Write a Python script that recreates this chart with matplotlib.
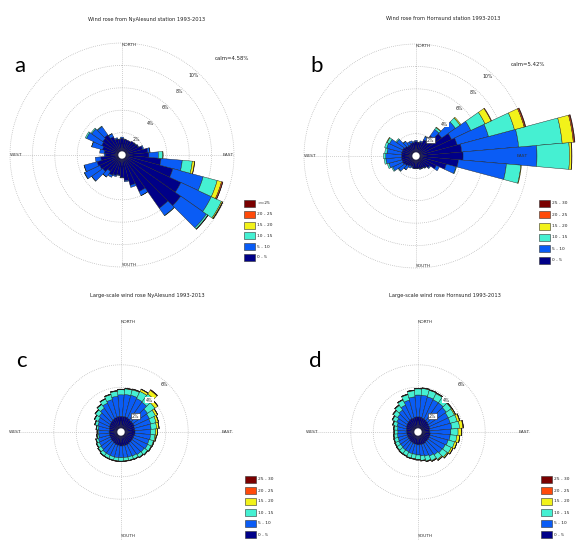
import numpy as np
import matplotlib
matplotlib.use('Agg')
import matplotlib.pyplot as plt
from matplotlib.patches import Rectangle

# ---------------- data ----------------
directions = [0, 10, 20, 30, 40, 50, 60, 70, 80, 90, 100, 110, 120, 130, 140, 150, 160, 170,
              180, 190, 200, 210, 220, 230, 240, 250, 260, 270, 280, 290, 300, 310, 320, 330, 340, 350]

# Panel a: NyAlesund station (frequency %, per speed class)
a_0_5 = [1.5, 1.4, 1.4, 1.4, 1.5, 1.5, 1.6, 1.9, 2.3, 2.4, 3.5, 4.7, 5.8, 6.4, 5.8, 3.6, 2.8, 2.3,
         2.0, 1.8, 1.9, 2.0, 1.8, 2.1, 2.2, 2.3, 1.9, 1.5, 1.6, 1.8, 2.0, 2.1, 2.2, 1.8, 1.5, 1.4]
a_5_10 = [0.1, 0.05, 0.0, 0.0, 0.0, 0.05, 0.05, 0.1, 0.2, 0.85, 1.9, 2.8, 3.0, 2.8, 0.8, 0.4, 0.2, 0.1,
          0.05, 0.05, 0.1, 0.2, 0.6, 1.2, 1.5, 1.2, 0.5, 0.1, 0.4, 1.0, 1.5, 1.2, 0.9, 0.3, 0.1, 0.05]
a_10_15 = [0, 0, 0, 0, 0, 0, 0, 0, 0.02, 0.4, 0.9, 1.3, 1.0, 0.15, 0.03, 0.01, 0, 0,
           0, 0, 0, 0, 0.01, 0.02, 0.03, 0.02, 0, 0, 0, 0.02, 0.12, 0.1, 0.05, 0.01, 0, 0]
a_15_20 = [0, 0, 0, 0, 0, 0, 0, 0, 0, 0.02, 0.2, 0.4, 0.1, 0.03, 0, 0, 0, 0,
           0, 0, 0, 0, 0, 0, 0, 0, 0, 0, 0, 0, 0, 0, 0, 0, 0, 0]
a_20_25 = [0, 0, 0, 0, 0, 0, 0, 0, 0, 0, 0.03, 0.1, 0.03, 0.01, 0, 0, 0, 0,
           0, 0, 0, 0, 0, 0, 0, 0, 0, 0, 0, 0, 0, 0, 0, 0, 0, 0]
a_25 = [0, 0, 0, 0, 0, 0, 0, 0, 0, 0, 0, 0.03, 0.01, 0, 0, 0, 0, 0,
        0, 0, 0, 0, 0, 0, 0, 0, 0, 0, 0, 0, 0, 0, 0, 0, 0, 0]

# Panel b: Hornsund station
b_0_5 = [1.3, 1.2, 1.3, 1.6, 2.2, 2.8, 3.5, 3.8, 4.1, 4.2, 3.8, 2.8, 2.0, 1.5, 1.3, 1.2, 1.2, 1.1,
         1.1, 1.1, 1.0, 1.0, 1.1, 1.2, 1.3, 1.3, 1.3, 1.3, 1.3, 1.3, 1.3, 1.2, 1.1, 1.1, 1.2, 1.2]
b_5_10 = [0.1, 0.05, 0.1, 0.3, 0.7, 1.5, 1.9, 2.9, 5.1, 6.6, 4.3, 0.9, 0.3, 0.1, 0.05, 0.05, 0.05, 0.05,
          0.05, 0.05, 0.1, 0.2, 0.4, 0.7, 1.0, 1.2, 1.4, 1.4, 1.3, 1.4, 1.3, 0.9, 0.5, 0.3, 0.2, 0.1]
b_10_15 = [0, 0, 0, 0.05, 0.2, 0.5, 1.4, 2.4, 3.9, 2.9, 1.3, 0.05, 0, 0, 0, 0, 0, 0,
           0, 0, 0, 0, 0.02, 0.05, 0.1, 0.15, 0.15, 0.2, 0.2, 0.2, 0.25, 0.1, 0.02, 0, 0, 0]
b_15_20 = [0, 0, 0, 0, 0.05, 0.1, 0.6, 0.9, 1.0, 0.2, 0.05, 0, 0, 0, 0, 0, 0, 0,
           0, 0, 0, 0, 0, 0, 0, 0, 0, 0, 0, 0, 0.05, 0, 0, 0, 0, 0]
b_20_25 = [0, 0, 0, 0, 0, 0, 0.05, 0.1, 0.1, 0.03, 0, 0, 0, 0, 0, 0, 0, 0,
           0, 0, 0, 0, 0, 0, 0, 0, 0, 0, 0, 0, 0, 0, 0, 0, 0, 0]
b_25_30 = [0, 0, 0, 0, 0, 0, 0, 0.05, 0.05, 0, 0, 0, 0, 0, 0, 0, 0, 0,
           0, 0, 0, 0, 0, 0, 0, 0, 0, 0, 0, 0, 0, 0, 0, 0, 0, 0]

# Panel c: large-scale NyAlesund
c_0_5 = [1.40, 1.40, 1.40, 1.35, 1.30, 1.30, 1.30, 1.25, 1.25, 1.25, 1.25, 1.20, 1.20, 1.20, 1.20, 1.25, 1.25, 1.25,
         1.25, 1.20, 1.20, 1.15, 1.10, 1.10, 1.05, 1.05, 1.05, 1.05, 1.05, 1.10, 1.15, 1.20, 1.25, 1.30, 1.35, 1.40]
c_5_10 = [1.92, 1.97, 2.00, 1.95, 1.95, 1.60, 1.50, 1.50, 1.45, 1.40, 1.40, 1.40, 1.42, 1.33, 1.28, 1.13, 1.08, 1.05,
          1.05, 1.10, 1.10, 1.15, 1.20, 1.10, 1.10, 1.05, 0.95, 0.95, 1.00, 1.05, 1.10, 1.20, 1.35, 1.55, 1.65, 1.80]
c_10_15 = [0.45, 0.50, 0.50, 0.70, 0.90, 0.80, 0.60, 0.50, 0.50, 0.45, 0.40, 0.40, 0.35, 0.35, 0.30, 0.30, 0.30, 0.30,
           0.30, 0.30, 0.30, 0.30, 0.30, 0.30, 0.25, 0.20, 0.15, 0.10, 0.15, 0.25, 0.35, 0.40, 0.40, 0.40, 0.45, 0.45]
c_15_20 = [0.03, 0.03, 0.05, 0.20, 0.40, 0.30, 0.20, 0.20, 0.20, 0.15, 0.10, 0.05, 0.03, 0.02, 0.02, 0.02, 0.02, 0.02,
           0.02, 0.02, 0.02, 0.02, 0.02, 0.02, 0.02, 0.02, 0.02, 0.02, 0.02, 0.02, 0.02, 0.02, 0.02, 0.02, 0.03, 0.03]
c_20_25 = [0.02, 0.02, 0.02, 0.03, 0.05, 0.03, 0.02, 0.02, 0.02, 0.02, 0.02, 0.02, 0.02, 0.02, 0.02, 0.02, 0.02, 0.02,
           0.02, 0.02, 0.02, 0.02, 0.02, 0.02, 0.02, 0.02, 0.02, 0.02, 0.02, 0.02, 0.02, 0.02, 0.02, 0.02, 0.02, 0.02]
c_25_30 = [0.01, 0.01, 0.01, 0.01, 0.02, 0.01, 0.01, 0.01, 0.01, 0.01, 0.01, 0.01, 0.01, 0.01, 0.01, 0.01, 0.01, 0.01,
           0.01, 0.01, 0.01, 0.01, 0.01, 0.01, 0.01, 0.01, 0.01, 0.01, 0.01, 0.01, 0.01, 0.01, 0.01, 0.01, 0.01, 0.01]

# Panel d: large-scale Hornsund
d_0_5 = [1.35, 1.35, 1.30, 1.25, 1.20, 1.15, 1.10, 1.10, 1.05, 1.05, 1.10, 1.10, 1.10, 1.10, 1.10, 1.15, 1.15, 1.15,
         1.15, 1.10, 1.10, 1.05, 1.05, 1.00, 1.00, 1.00, 1.00, 1.00, 1.05, 1.10, 1.15, 1.20, 1.25, 1.30, 1.30, 1.35]
d_5_10 = [1.95, 1.95, 1.95, 1.93, 1.98, 1.93, 1.88, 1.88, 1.98, 1.88, 1.78, 1.68, 1.58, 1.53, 1.40, 1.23, 1.09, 1.00,
          0.90, 0.90, 0.90, 0.90, 0.90, 0.90, 0.90, 0.85, 0.85, 0.80, 0.80, 0.85, 0.95, 1.05, 1.15, 1.35, 1.65, 1.80]
d_10_15 = [0.55, 0.60, 0.60, 0.60, 0.55, 0.55, 0.60, 0.65, 0.70, 0.65, 0.60, 0.60, 0.60, 0.55, 0.50, 0.45, 0.45, 0.40,
           0.40, 0.40, 0.40, 0.40, 0.40, 0.40, 0.35, 0.35, 0.30, 0.30, 0.30, 0.35, 0.40, 0.45, 0.50, 0.50, 0.50, 0.55]
d_15_20 = [0.03, 0.03, 0.03, 0.05, 0.05, 0.05, 0.10, 0.20, 0.30, 0.30, 0.25, 0.20, 0.15, 0.10, 0.08, 0.05, 0.04, 0.03,
           0.03, 0.03, 0.03, 0.03, 0.03, 0.03, 0.03, 0.03, 0.03, 0.03, 0.03, 0.03, 0.03, 0.03, 0.03, 0.03, 0.03, 0.03]
d_20_25 = [0.02, 0.02, 0.02, 0.02, 0.02, 0.02, 0.02, 0.03, 0.04, 0.03, 0.02, 0.02, 0.02, 0.02, 0.02, 0.02, 0.02, 0.02,
           0.02, 0.02, 0.02, 0.02, 0.02, 0.02, 0.02, 0.02, 0.02, 0.02, 0.02, 0.02, 0.02, 0.02, 0.02, 0.02, 0.02, 0.02]
d_25_30 = [0.01, 0.01, 0.01, 0.01, 0.01, 0.01, 0.01, 0.01, 0.02, 0.01, 0.01, 0.01, 0.01, 0.01, 0.01, 0.01, 0.01, 0.01,
           0.01, 0.01, 0.01, 0.01, 0.01, 0.01, 0.01, 0.01, 0.01, 0.01, 0.01, 0.01, 0.01, 0.01, 0.01, 0.01, 0.01, 0.01]

legend_a = ['>=25', '20 - 25', '15 - 20', '10 - 15', '5 - 10', '0 - 5']
legend_bcd = ['25 - 30', '20 - 25', '15 - 20', '10 - 15', '5 - 10', '0 - 5']
titles = ['Wind rose from NyAlesund station 1993-2013',
          'Wind rose from Hornsund station 1993-2013',
          'Large-scale wind rose NyAlesund 1993-2013',
          'Large-scale wind rose Hornsund 1993-2013']
calm_labels = ['calm=4.58%', 'calm=5.42%']
panel_letters = ['a', 'b', 'c', 'd']

# speed-class colours, low -> high
class_colors = ['#000088', '#0a5cf5', '#45f0d2', '#f2f21a', '#ff4a0a', '#7a0000']

# ---------------- layout ----------------
W, H = 576, 540
fig = plt.figure(figsize=(W / 100, H / 100), dpi=100)
PX = 11.2  # pixels per percent


def fx(x):
    return x / W


def fy(y):
    return 1 - y / H


def polar_ax(cx, cy, rmax):
    R = PX * rmax
    ax = fig.add_axes([(cx - R) / W, (H - cy - R) / H, 2 * R / W, 2 * R / H], projection='polar')
    ax.set_theta_zero_location('N')
    ax.set_theta_direction(-1)
    ax.set_ylim(0, rmax)
    ax.axis('off')
    return ax


def draw_rose(ax, classes, rings, boxed, south_r):
    th = np.linspace(0, 2 * np.pi, 721)
    dot = (0, (1, 1.8))
    gcol = '#a6a6a6'
    for r in rings:
        ax.plot(th, np.full_like(th, r), ls=dot, color=gcol, lw=0.5, zorder=1)
    for ang in [0, 90, 180, 270]:
        ax.plot([np.radians(ang)] * 2, [0, 10.0], ls=dot, color=gcol, lw=0.5, zorder=1)
    theta = np.radians(directions)
    bottom = np.zeros(len(directions))
    for vals, col in zip(classes, class_colors):
        v = np.array(vals, dtype=float)
        m = v > 0
        ax.bar(theta[m], v[m], width=np.radians(10), bottom=bottom[m], color=col,
               edgecolor='#1e1e1e', linewidth=0.3, align='center', zorder=2)
        bottom += v
    ax.fill(th, np.full_like(th, 0.33), color='white', zorder=3, lw=0)
    for r in rings:
        kw = {}
        if boxed and r == 2:
            kw['bbox'] = dict(boxstyle='square,pad=0.15', fc='white', ec='#222222', lw=0.4)
        elif boxed and r == 4:
            kw['bbox'] = dict(boxstyle='square,pad=0.1', fc='white', ec='none')
        ax.text(np.radians(42), r * 0.955, f'{r}%', fontsize=3.3, ha='center', va='center',
                color='#222222', zorder=4, **kw)
    fs = 3.2
    ax.text(0, 9.85, 'NORTH', fontsize=fs, ha='left', va='center', color='#333333', zorder=4)
    ax.text(np.pi, south_r, 'SOUTH', fontsize=fs, ha='left', va='center', color='#333333', zorder=4)
    ax.text(np.radians(270), 10.0, 'WEST', fontsize=fs, ha='left', va='center', color='#333333', zorder=4)
    ax.text(np.radians(90), 10.0, 'EAST', fontsize=fs, ha='right', va='center', color='#333333', zorder=4)


def legend(x, y, labels, step):
    cols = class_colors[::-1]
    for i, (lab, col) in enumerate(zip(labels, cols)):
        yy = y + i * step
        fig.add_artist(Rectangle((fx(x), fy(yy + 7)), 11 / W, 7 / H, transform=fig.transFigure,
                                 facecolor=col, edgecolor='#333333', lw=0.4))
        fig.text(fx(x + 13), fy(yy + 3.5), lab, fontsize=3.2, ha='left', va='center', color='#222222')


panels = [
    dict(c=(122, 155), rmax=11.0, data=[a_0_5, a_5_10, a_10_15, a_15_20, a_20_25, a_25],
         rings=[2, 4, 6, 8, 10], boxed=False, south=9.85),
    dict(c=(416, 156), rmax=14.6, data=[b_0_5, b_5_10, b_10_15, b_15_20, b_20_25, b_25_30],
         rings=[2, 4, 6, 8, 10], boxed=True, south=9.85),
    dict(c=(121, 432), rmax=11.0, data=[c_0_5, c_5_10, c_10_15, c_15_20, c_20_25, c_25_30],
         rings=[2, 4, 6], boxed=True, south=9.3),
    dict(c=(418, 432), rmax=11.0, data=[d_0_5, d_5_10, d_10_15, d_15_20, d_20_25, d_25_30],
         rings=[2, 4, 6], boxed=True, south=9.3),
]

for p in panels:
    ax = polar_ax(p['c'][0], p['c'][1], p['rmax'])
    draw_rose(ax, p['data'], p['rings'], p['boxed'], p['south'])

# titles
title_pos = [(147, 19), (443, 19), (147, 295), (445, 295)]
for t, (x, y) in zip(titles, title_pos):
    fig.text(fx(x), fy(y), t, fontsize=3.7, ha='center', va='center', color='#222222')

# calm labels
fig.text(fx(232), fy(58), calm_labels[0], fontsize=3.9, ha='center', va='center', color='#222222')
fig.text(fx(528), fy(64), calm_labels[1], fontsize=3.9, ha='center', va='center', color='#222222')

# panel letters
letter_pos = [(14, 72), (310, 72), (16, 367), (309, 367)]
for L, (x, y) in zip(panel_letters, letter_pos):
    fig.text(fx(x), fy(y), L, fontsize=16, ha='left', va='baseline', family='Lato', color='black')

# legends
legend(244, 200, legend_a, 10.8)
legend(539, 200, legend_bcd, 11.3)
legend(245, 476, legend_bcd, 11.0)
legend(541, 476, legend_bcd, 11.0)

fig.savefig('out.png', dpi=100, facecolor='white')
